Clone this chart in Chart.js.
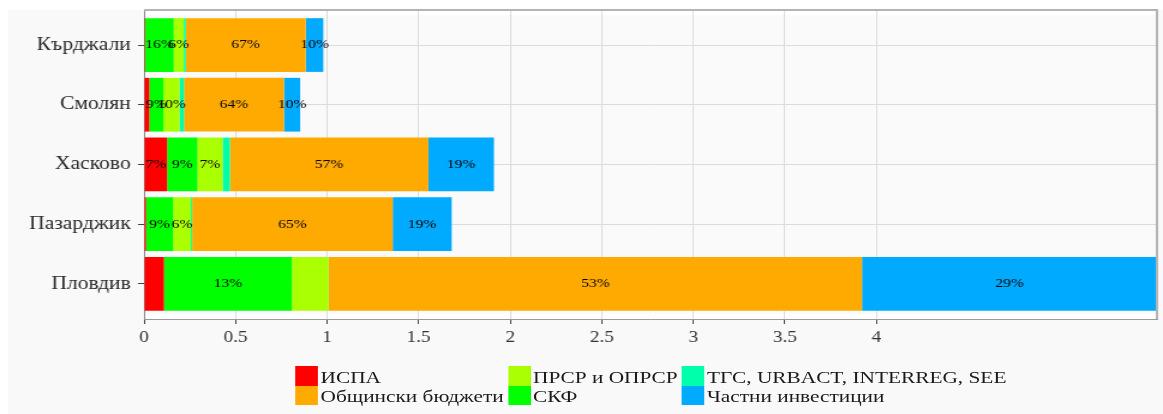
<!DOCTYPE html>
<html>
<head>
<meta charset="utf-8">
<script src="https://cdn.jsdelivr.net/npm/chart.js@4.4.1/dist/chart.umd.min.js"></script>
<style>
body { margin:0; background:#fff; width:1163px; height:414px; overflow:hidden; position:relative; font-family:"Liberation Serif", serif; }
#panel { position:absolute; left:8px; top:10px; right:0; bottom:0; background:#f9f9f9; }
/* the original picture is a bit wider than tall in its text, so the whole chart is stretched */
#wrap { position:absolute; left:0; top:0; width:969px; height:414px; transform:scaleX(1.2002); transform-origin:0 0; }
#mycanvas { position:absolute; left:0; top:0; }
#legend { position:absolute; left:246px; top:366px; display:grid; grid-template-columns:auto auto auto; column-gap:3px; font-size:16px; color:#1a1a1a; transform:scaleX(1.11); transform-origin:0 0; }
.item { display:flex; align-items:flex-end; height:19.5px; line-height:17px; }
.box { width:17px; height:19.5px; margin-right:2px; flex:none; }
</style>
</head>
<body>
<div id="panel"></div>
<div id="wrap">
  <canvas id="mycanvas" width="969" height="414"></canvas>
  <div id="legend"></div>
</div>
<script>
var categories = ["Кърджали", "Смолян", "Хасково", "Пазарджик", "Пловдив"];

// values per source, same order as categories
var ispa      = [0.006, 0.029, 0.126, 0.011, 0.109];
var skf       = [0.156, 0.0765, 0.166, 0.148, 0.699];
var prsr      = [0.055, 0.088, 0.137, 0.097, 0.199];
var tgs       = [0.011, 0.025, 0.040, 0.007, 0.002];
var obshtinski = [0.655, 0.546, 1.084, 1.095, 2.912];
var chastni   = [0.096, 0.088, 0.358, 0.322, 1.611];

var seriesNames = ["ИСПА", "СКФ", "ПРСР и ОПРСР", "TГС, URBACT, INTERREG, SEE", "Общински бюджети", "Частни инвестиции"];
var seriesValues = [ispa, skf, prsr, tgs, obshtinski, chastni];
var seriesColors = ["#ff0000", "#00ff00", "#aaff00", "#00ffaa", "#ffaa00", "#00aaff"];
var legendOrder = [0, 2, 3, 4, 1, 5];

var xTicks = [0, 0.5, 1, 1.5, 2, 2.5, 3, 3.5, 4];

var totals = categories.map(function(c, i) {
    var s = 0;
    for (var k = 0; k < seriesValues.length; k++) s += seriesValues[k][i];
    return s;
});
var xMax = Math.max.apply(null, totals);

var datasets = [];
for (var k = 0; k < seriesNames.length; k++) {
    datasets.push({
        label: seriesNames[k],
        backgroundColor: seriesColors[k],
        borderWidth: 0,
        categoryPercentage: 1,
        barPercentage: 0.9,
        data: seriesValues[k].map(function(v, i) { return { x: v, y: i }; })
    });
}

var plotBg = {
    id: 'plotBg',
    beforeDraw: function(chart) {
        var a = chart.chartArea, ctx = chart.ctx, y = chart.scales.y;
        ctx.save();
        ctx.fillStyle = '#ffffff';
        ctx.fillRect(a.left, a.top, a.right - a.left, a.bottom - a.top);
        var t = y.getPixelForValue(-0.5), b = y.getPixelForValue(categories.length - 0.5);
        ctx.fillStyle = '#fafafa';
        ctx.fillRect(a.left, t, a.right - a.left, b - t);
        ctx.restore();
    },
    afterDraw: function(chart) {
        var a = chart.chartArea, ctx = chart.ctx;
        ctx.save();
        ctx.strokeStyle = '#b4b4b4';
        ctx.lineWidth = 2;
        ctx.beginPath();
        ctx.moveTo(a.left, a.top);
        ctx.lineTo(a.right, a.top);
        ctx.lineTo(a.right, a.bottom);
        ctx.stroke();
        ctx.restore();
    }
};

var pctLabels = {
    id: 'pctLabels',
    afterDatasetsDraw: function(chart) {
        var ctx = chart.ctx;
        ctx.save();
        ctx.font = '13px "Liberation Serif"';
        ctx.fillStyle = '#000';
        ctx.textAlign = 'center';
        ctx.textBaseline = 'middle';
        chart.data.datasets.forEach(function(ds, di) {
            var meta = chart.getDatasetMeta(di);
            meta.data.forEach(function(bar, i) {
                var pct = Math.round(ds.data[i].x / totals[i] * 100);
                if (pct < 5) return;
                var c = bar.getCenterPoint();
                ctx.fillText(pct + '%', c.x, c.y);
            });
        });
        ctx.restore();
    }
};

var ctx = document.getElementById('mycanvas');
var barGraph = new Chart(ctx, {
    type: 'bar',
    data: { datasets: datasets },
    plugins: [plotBg, pctLabels],
    options: {
        responsive: false,
        animation: false,
        indexAxis: 'y',
        layout: { padding: { left: 0, right: 5, top: 10, bottom: 0 } },
        plugins: { legend: { display: false }, tooltip: { enabled: false } },
        scales: {
            x: {
                type: 'linear',
                stacked: true,
                min: 0,
                max: xMax,
                afterBuildTicks: function(s) { s.ticks = xTicks.map(function(v) { return { value: v }; }); },
                afterFit: function(s) { s.height = 95; },
                grid: { color: '#dcdcdc', tickColor: '#444', tickLength: 5 },
                border: { color: '#999' },
                ticks: {
                    font: { family: 'Liberation Serif', size: 16 },
                    color: '#333',
                    padding: 4,
                    maxRotation: 0,
                    autoSkip: false,
                    callback: function(v) { return String(v); }
                }
            },
            y: {
                type: 'linear',
                stacked: true,
                reverse: true,
                offset: false,
                min: -0.587,
                max: categories.length - 1 + 0.59,
                afterBuildTicks: function(s) { s.ticks = categories.map(function(c, i) { return { value: i }; }); },
                afterFit: function(s) { s.width = 120; s.paddingTop = 0; s.paddingBottom = 0; },
                grid: { offset: false, color: '#dcdcdc', tickColor: '#444', tickLength: 5 },
                border: { color: '#888' },
                ticks: {
                    font: { family: 'Liberation Serif', size: 18 },
                    color: '#2a2a2a',
                    padding: 6,
                    autoSkip: false,
                    callback: function(v) { return categories[v]; }
                }
            }
        }
    }
});

// legend, laid out as a 3 column grid like the original
var legend = document.getElementById('legend');
legendOrder.forEach(function(k) {
    var item = document.createElement('div');
    item.className = 'item';
    var box = document.createElement('span');
    box.className = 'box';
    box.style.background = seriesColors[k];
    var txt = document.createElement('span');
    txt.textContent = seriesNames[k];
    item.appendChild(box);
    item.appendChild(txt);
    legend.appendChild(item);
});
</script>
</body>
</html>
